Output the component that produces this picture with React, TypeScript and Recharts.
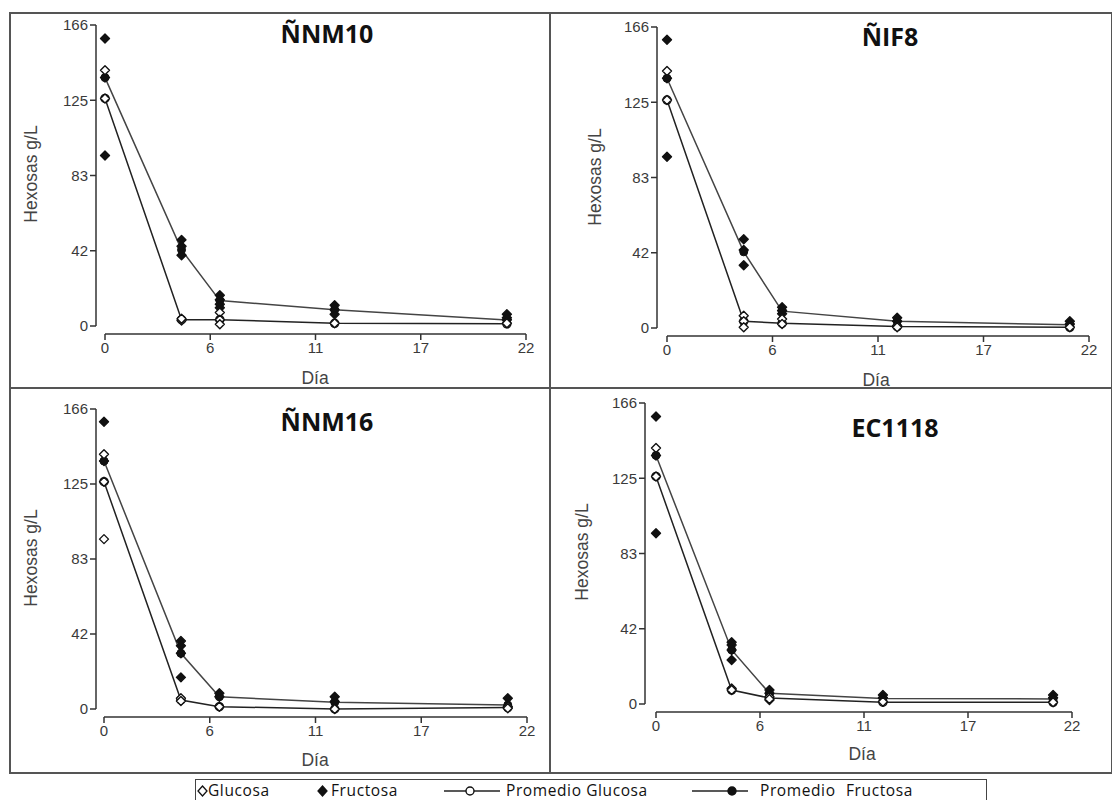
import React from 'react';
import { ComposedChart, Line, Scatter, XAxis, YAxis, ReferenceLine } from 'recharts';

// días de muestreo
const DAYS = [0, 4, 6, 12, 21];
const X_TICKS = [0, 5.5, 11, 16.5, 22];
const Y_TICKS = [0, 41.5, 83, 124.5, 166];

// ÑNM10 (réplicas por día)
const NM10_GLUCOSA = [[141, 125.5], [3, 4], [7.5, 3.5, 1], [1.5], [1.5]];
const NM10_FRUCTOSA = [[158.5, 137, 94], [47.5, 44, 39], [17, 14.5, 12, 10], [11.5, 9, 6.5], [6.5, 4.5, 3.5]];
const NM10_PROM_GLUCOSA = [125.5, 3.5, 3.5, 1.5, 1.2];
const NM10_PROM_FRUCTOSA = [137, 42, 14, 9, 3.3];

// ÑIF8
const IF8_GLUCOSA = [[141.8, 125.7], [6.8, 3.7, 0.4], [5, 2.2], [1.3, 0.4], [0.4]];
const IF8_FRUCTOSA = [[159, 137.7, 94.4], [49, 43, 34.6], [11.5, 9.6, 7.8], [5.6, 3.7], [3.7, 2.2]];
const IF8_PROM_GLUCOSA = [125.7, 3.7, 2.6, 0.8, 0.4];
const IF8_PROM_FRUCTOSA = [137.7, 42, 9.3, 3.7, 1.8];

// ÑNM16
const NM16_GLUCOSA = [[141, 125.8, 94], [5.9, 4.4], [1.3], [0], [1.3, 0.4]];
const NM16_FRUCTOSA = [[159, 137.2], [37.6, 35, 30.8, 17.5], [8.7, 6.8], [6.8, 4.1], [5.9]];
const NM16_PROM_GLUCOSA = [125.8, 5, 1.3, 0, 0.8];
const NM16_PROM_FRUCTOSA = [137.2, 30.8, 6.8, 3.7, 2.2];

// EC1118
const EC1118_GLUCOSA = [[141.2, 125.5], [8.6, 7.7], [4, 2.8], [1.3], [0.9]];
const EC1118_FRUCTOSA = [[158.6, 137.1, 94.2], [34, 32.6, 29.8, 24.3], [7.7, 5.9, 2.2], [5, 3.5], [5, 3.5]];
const EC1118_PROM_GLUCOSA = [125.5, 7.7, 3.3, 1, 0.9];
const EC1118_PROM_FRUCTOSA = [137.1, 29.8, 5.9, 3.1, 2.8];

const toPoints = (reps: number[][]) => reps.flatMap((vals, i) => vals.map(v => ({ day: DAYS[i], value: v })));
const toLine = (vals: number[]) => vals.map((v, i) => ({ day: DAYS[i], value: v }));

const AXIS = '#333';
const TICK_FONT = { fill: '#3a3a3a', fontSize: 15, fontFamily: '"Liberation Sans", Arial, sans-serif' };
const LABEL_FONT = '"Liberation Sans", Arial, sans-serif';

const Diamond = (filled: boolean) => (props: any) => {
  const { cx, cy } = props;
  if (cx == null || cy == null) return <g />;
  return (
    <path
      d={`M${cx},${cy - 4.5} L${cx + 4.5},${cy} L${cx},${cy + 4.5} L${cx - 4.5},${cy} Z`}
      fill={filled ? '#111' : '#fff'}
      stroke="#111"
      strokeWidth={1.4}
      strokeLinejoin="round"
    />
  );
};

interface PanelProps {
  title: string;
  glucosa: number[][];
  fructosa: number[][];
  promGlucosa: number[];
  promFructosa: number[];
  plotLeft: number; // y axis line
  x0: number;
  x22: number;
  y166: number;
  y0: number;
  axisY: number; // x axis line
  titleX: number;
  titleY: number;
  yLabelX: number;
  yLabelY: number;
  diaX: number;
  diaY: number;
}

const Panel: React.FC<PanelProps> = p => {
  const plotW = p.x22 - p.plotLeft;
  const plotH = p.axisY - p.y166;
  const xMin = -((p.x0 - p.plotLeft) / (p.x22 - p.x0)) * 22;
  const yMin = -((p.axisY - p.y0) / (p.y0 - p.y166)) * 166;
  const fmt = (v: number) => String(Math.round(v));
  return (
    <>
      <div style={{ position: 'absolute', left: p.plotLeft - 70, top: p.y166 - 20 }}>
        <ComposedChart width={plotW + 90} height={plotH + 60} margin={{ top: 20, right: 20, bottom: 0, left: 0 }}>
          <XAxis
            type="number"
            dataKey="day"
            domain={[xMin, 22]}
            allowDataOverflow
            ticks={X_TICKS}
            interval={0}
            tickFormatter={fmt}
            axisLine={false}
            tickLine={{ stroke: AXIS, strokeWidth: 1.5 }}
            tickSize={6}
            tick={TICK_FONT}
            height={40}
          />
          <YAxis
            type="number"
            dataKey="value"
            domain={[yMin, 166]}
            allowDataOverflow
            ticks={Y_TICKS}
            interval={0}
            tickFormatter={fmt}
            axisLine={false}
            tickLine={{ stroke: AXIS, strokeWidth: 1.5 }}
            tickSize={6}
            tick={TICK_FONT}
            width={70}
          />
          <ReferenceLine segment={[{ x: xMin, y: 0 }, { x: xMin, y: 166 }]} stroke={AXIS} strokeWidth={1.5} ifOverflow="visible" />
          <ReferenceLine segment={[{ x: 0, y: yMin }, { x: 22, y: yMin }]} stroke={AXIS} strokeWidth={1.5} ifOverflow="visible" />
          <Line
            data={toLine(p.promFructosa)}
            dataKey="value"
            type="linear"
            stroke="#444"
            strokeWidth={1.5}
            dot={{ r: 4, fill: '#111', stroke: '#111', strokeWidth: 1 }}
            isAnimationActive={false}
          />
          <Line
            data={toLine(p.promGlucosa)}
            dataKey="value"
            type="linear"
            stroke="#222"
            strokeWidth={1.5}
            dot={{ r: 4, fill: '#fff', stroke: '#111', strokeWidth: 1.5 }}
            isAnimationActive={false}
          />
          <Scatter data={toPoints(p.fructosa)} dataKey="value" shape={Diamond(true)} isAnimationActive={false} />
          <Scatter data={toPoints(p.glucosa)} dataKey="value" shape={Diamond(false)} isAnimationActive={false} />
        </ComposedChart>
      </div>
      <div
        style={{
          position: 'absolute', left: p.titleX - 100, top: p.titleY - 17, width: 200, textAlign: 'center',
          fontFamily: '"Open Sans", sans-serif', fontWeight: 700, fontSize: 25, lineHeight: '34px', color: '#111',
        }}
      >
        {p.title}
      </div>
      <div
        style={{
          position: 'absolute', left: p.yLabelX - 100, top: p.yLabelY - 10, width: 200, height: 20, textAlign: 'center',
          fontFamily: LABEL_FONT, fontSize: 17.5, lineHeight: '20px', color: '#444', transform: 'rotate(-90deg)',
        }}
      >
        Hexosas g/L
      </div>
      <div
        style={{
          position: 'absolute', left: p.diaX - 50, top: p.diaY - 10, width: 100, textAlign: 'center',
          fontFamily: LABEL_FONT, fontSize: 17.5, lineHeight: '20px', color: '#444',
        }}
      >
        Día
      </div>
    </>
  );
};

const LegendIcon: React.FC<{ kind: 'glu' | 'fru' | 'pglu' | 'pfru' }> = ({ kind }) => {
  if (kind === 'glu' || kind === 'fru') {
    return (
      <svg width={11} height={12} style={{ display: 'block' }}>
        <path d="M5.5,1 L10,6 L5.5,11 L1,6 Z" fill={kind === 'fru' ? '#111' : '#fff'} stroke="#111" strokeWidth={1.3} />
      </svg>
    );
  }
  return (
    <svg width={56} height={12} style={{ display: 'block' }}>
      <line x1={0} y1={6} x2={56} y2={6} stroke="#222" strokeWidth={1.5} />
      <circle cx={kind === 'pglu' ? 26 : 40} cy={6} r={4} fill={kind === 'pfru' ? '#111' : '#fff'} stroke="#111" strokeWidth={1.4} />
    </svg>
  );
};

export default function App() {
  const legendText: React.CSSProperties = {
    position: 'absolute', top: 781, fontFamily: '"Open Sans", sans-serif', fontSize: 15.5, letterSpacing: 0.6,
    lineHeight: '18px', color: '#111', whiteSpace: 'nowrap',
  };
  const legendIcon: React.CSSProperties = { position: 'absolute', top: 785 };
  return (
    <div style={{ position: 'absolute', left: 0, top: 0, width: 1112, height: 800, background: '#fff', overflow: 'hidden' }}>
      {/* marco exterior y divisiones */}
      <div style={{ position: 'absolute', left: 9, top: 12, width: 1100, height: 758, border: '2px solid #555' }} />
      <div style={{ position: 'absolute', left: 549, top: 12, width: 2, height: 760, background: '#555' }} />
      <div style={{ position: 'absolute', left: 9, top: 387, width: 1103, height: 2, background: '#555' }} />

      <Panel
        title="ÑNM10" glucosa={NM10_GLUCOSA} fructosa={NM10_FRUCTOSA}
        promGlucosa={NM10_PROM_GLUCOSA} promFructosa={NM10_PROM_FRUCTOSA}
        plotLeft={96} x0={105} x22={526} y166={25} y0={326} axisY={334}
        titleX={327} titleY={33} yLabelX={31} yLabelY={174} diaX={315} diaY={378}
      />
      <Panel
        title="ÑIF8" glucosa={IF8_GLUCOSA} fructosa={IF8_FRUCTOSA}
        promGlucosa={IF8_PROM_GLUCOSA} promFructosa={IF8_PROM_FRUCTOSA}
        plotLeft={657} x0={667} x22={1089} y166={27} y0={328} axisY={336}
        titleX={890} titleY={36} yLabelX={595} yLabelY={177} diaX={876} diaY={380}
      />
      <Panel
        title="ÑNM16" glucosa={NM16_GLUCOSA} fructosa={NM16_FRUCTOSA}
        promGlucosa={NM16_PROM_GLUCOSA} promFructosa={NM16_PROM_FRUCTOSA}
        plotLeft={96} x0={104} x22={527} y166={409} y0={709} axisY={717}
        titleX={327} titleY={421} yLabelX={31} yLabelY={558} diaX={315} diaY={760}
      />
      <Panel
        title="EC1118" glucosa={EC1118_GLUCOSA} fructosa={EC1118_FRUCTOSA}
        promGlucosa={EC1118_PROM_GLUCOSA} promFructosa={EC1118_PROM_FRUCTOSA}
        plotLeft={645} x0={656} x22={1072} y166={403} y0={704} axisY={712}
        titleX={895} titleY={427} yLabelX={582} yLabelY={552} diaX={862} diaY={754}
      />

      {/* leyenda */}
      <div style={{ position: 'absolute', left: 195, top: 779, width: 790, height: 30, border: '1.5px solid #444' }} />
      <div style={{ ...legendIcon, left: 197 }}><LegendIcon kind="glu" /></div>
      <div style={{ ...legendText, left: 208 }}>Glucosa</div>
      <div style={{ ...legendIcon, left: 317 }}><LegendIcon kind="fru" /></div>
      <div style={{ ...legendText, left: 331 }}>Fructosa</div>
      <div style={{ ...legendIcon, left: 444 }}><LegendIcon kind="pglu" /></div>
      <div style={{ ...legendText, left: 506 }}>Promedio Glucosa</div>
      <div style={{ ...legendIcon, left: 692 }}><LegendIcon kind="pfru" /></div>
      <div style={{ ...legendText, left: 760 }}>Promedio</div>
      <div style={{ ...legendText, left: 846 }}>Fructosa</div>
    </div>
  );
}
